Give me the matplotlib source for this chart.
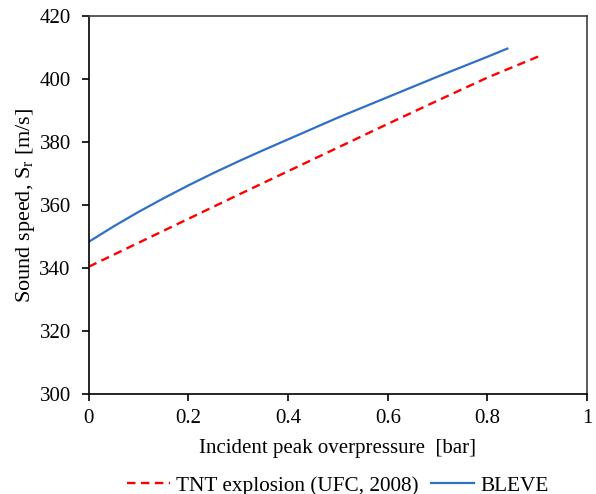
import matplotlib
matplotlib.use("Agg")
import matplotlib.pyplot as plt

plt.rcParams['font.family'] = ['Liberation Serif', 'DejaVu Serif']
plt.rcParams['mathtext.fontset'] = 'custom'
plt.rcParams['mathtext.rm'] = 'Liberation Serif'
plt.rcParams['mathtext.it'] = 'Liberation Serif:italic'

# Incident peak overpressure [bar] and sound speed [m/s]
tnt_p = [0.0, 0.1, 0.2, 0.3, 0.4, 0.5, 0.6, 0.7, 0.8, 0.91]
tnt_s = [340.4, 348.0, 355.6, 363.2, 370.7, 378.2, 385.7, 393.1, 400.4, 407.6]

bleve_p = [0.0, 0.05, 0.1, 0.15, 0.2, 0.25, 0.3, 0.35, 0.4, 0.45, 0.5,
           0.6, 0.7, 0.8, 0.84]
bleve_s = [348.3, 353.2, 357.8, 362.1, 366.2, 370.1, 373.8, 377.35, 380.8,
           384.25, 387.7, 394.2, 400.7, 407.0, 409.6]

x_ticks = [0, 0.2, 0.4, 0.6, 0.8, 1]
x_tick_labels = ['0', '0.2', '0.4', '0.6', '0.8', '1']
y_ticks = [300, 320, 340, 360, 380, 400, 420]

fig = plt.figure(figsize=(5.96, 4.94), dpi=100)
ax = fig.add_axes([0.149, 0.2024, 0.836, 0.7656])

ax.plot(tnt_p, tnt_s, color='#FF0000', lw=1.7, dashes=(3.6, 2.3),
        label='TNT explosion (UFC, 2008)')
ax.plot(bleve_p, bleve_s, color='#2F6FC6', lw=1.6, label='BLEVE')

ax.set_xlim(0, 1)
ax.set_ylim(300, 420)
ax.set_xticks(x_ticks)
ax.set_xticklabels(x_tick_labels)
ax.set_yticks(y_ticks)
ax.tick_params(direction='out', length=5, width=1.2, labelsize=15, pad=6)
ax.tick_params(axis='y', pad=8)

for side in ['left', 'bottom']:
    ax.spines[side].set_color('black')
    ax.spines[side].set_linewidth(1.2)
for side in ['top', 'right']:
    ax.spines[side].set_color('#404040')
    ax.spines[side].set_linewidth(1.2)

ax.set_xlabel('Incident peak overpressure  [bar]', fontsize=15, labelpad=8)
ax.set_ylabel(r'Sound speed, S$_\mathrm{r}$ [m/s]', fontsize=16, labelpad=2)

fig.legend(loc='center', bbox_to_anchor=(0.567, 0.017), ncol=2, frameon=False,
           fontsize=15.3, handlelength=2.0, handletextpad=0.3, columnspacing=0.6)

fig.savefig('out.png', dpi=100)
